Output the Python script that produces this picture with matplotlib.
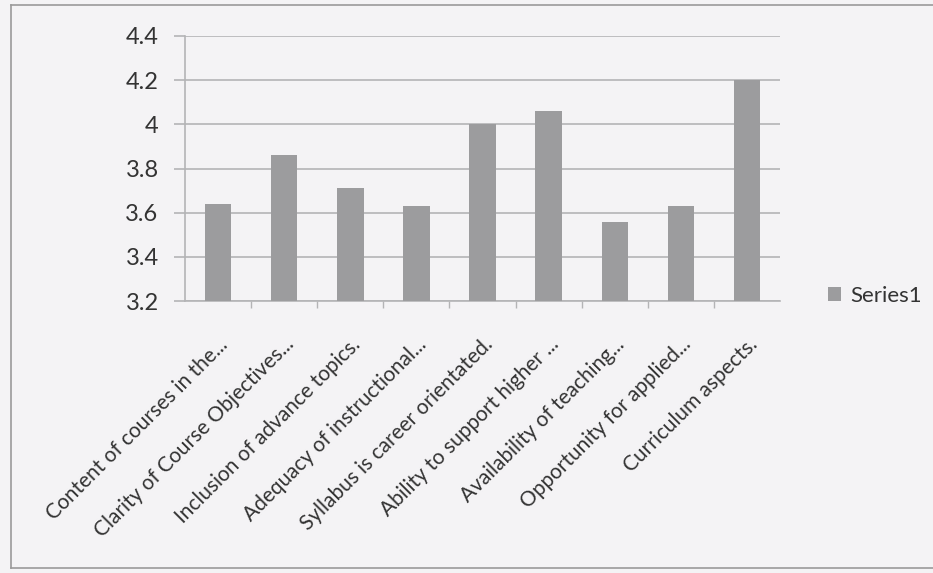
import numpy as np
import matplotlib.pyplot as plt
from matplotlib.lines import Line2D

categories = ['Content of courses in the...',
              'Clarity of Course Objectives...',
              'Inclusion of advance topics.',
              'Adequacy of instructional...',
              'Syllabus is career orientated.',
              'Ability to support higher ...',
              'Availability of teaching...',
              'Opportunity for applied...',
              'Curriculum aspects.']
series1 = [3.64, 3.86, 3.71, 3.63, 4.00, 4.06, 3.56, 3.63, 4.20]
yticks = [3.2, 3.4, 3.6, 3.8, 4.0, 4.2, 4.4]
ytick_labels = ['3.2', '3.4', '3.6', '3.8', '4', '4.2', '4.4']

W, H = 933, 573
bg = '#f4f3f5'
bar_color = '#9c9c9e'
grid_color = '#b4b4b6'
text_color = '#333333'

plt.rcParams['font.family'] = ['Lato', 'DejaVu Sans']

fig = plt.figure(figsize=(W / 100, H / 100), dpi=100, facecolor=bg)

# chart border (scan shows left, top and bottom edges)
fig.add_artist(Line2D([11 / W, 11 / W], [5 / H, 1 - 5 / H], color='#9a9a9a', lw=1.2))
fig.add_artist(Line2D([11 / W, 1], [1 - 5 / H, 1 - 5 / H], color='#9a9a9a', lw=1.2))
fig.add_artist(Line2D([11 / W, 1], [5 / H, 5 / H], color='#9a9a9a', lw=1.2))

ax = fig.add_axes([185 / W, (H - 301) / H, (780 - 185) / W, (301 - 36) / H])
ax.set_facecolor(bg)

x = np.arange(len(categories))
ax.bar(x, series1, width=0.4, color=bar_color, zorder=3, label='Series1')

ax.set_ylim(3.2, 4.4)
ax.set_xlim(-0.5, len(categories) - 0.5)
ax.set_yticks(yticks)
ax.set_yticklabels(ytick_labels, fontsize=17, color=text_color)
ax.yaxis.grid(True, color=grid_color, lw=1.2, zorder=0)
ax.tick_params(axis='y', length=8, color=grid_color, width=1.2, pad=11)

ax.set_xticks(x)
ax.set_xticklabels(categories, rotation=45, ha='right', va='top',
                   rotation_mode='anchor', fontsize=15, color=text_color)
ax.tick_params(axis='x', which='major', length=0, pad=24)
ax.set_xticks(np.arange(0.5, len(categories) - 0.5, 1), minor=True)
ax.tick_params(axis='x', which='minor', length=5, color=grid_color, width=1)

for side in ['top', 'right']:
    ax.spines[side].set_visible(False)
ax.spines['left'].set_color(grid_color)
ax.spines['bottom'].set_color(grid_color)
ax.spines['left'].set_linewidth(1.2)
ax.spines['bottom'].set_linewidth(1.2)

leg = fig.legend(loc='center left', bbox_to_anchor=(808 / W, (H - 296) / H),
                 frameon=False, fontsize=16, handlelength=0.6, handleheight=0.6,
                 handletextpad=0.4, labelcolor=text_color)

fig.savefig('out.png', dpi=100, facecolor=bg)
